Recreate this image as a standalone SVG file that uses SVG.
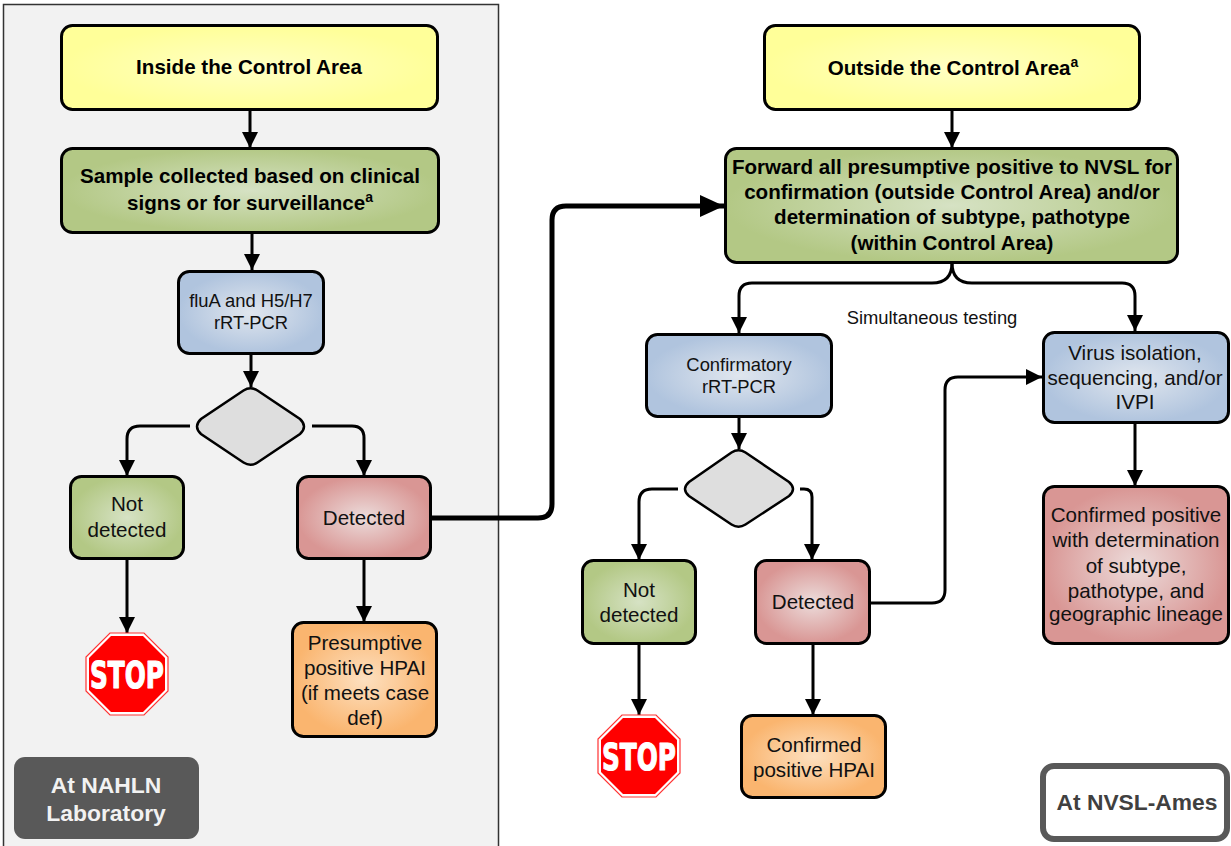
<svg xmlns="http://www.w3.org/2000/svg" width="1231" height="846" viewBox="0 0 1231 846">
<style>
.n{stroke:#000;stroke-width:3}
.t{font-family:"Liberation Sans",Arial,sans-serif;font-size:20.6px;fill:#111;text-anchor:middle}
.b{font-weight:bold;font-size:20.6px;fill:#000}
.s{font-size:18.4px}
.c{fill:none;stroke:#000;stroke-width:3;marker-end:url(#a)}
.stop{font-family:"DejaVu Sans",sans-serif;font-weight:bold;font-size:37px;fill:#fff;stroke:#fff;stroke-width:1.2;stroke-linejoin:round;text-anchor:middle}
</style>
<defs>
<marker id="a" markerUnits="userSpaceOnUse" markerWidth="18" markerHeight="18" refX="16" refY="8" orient="auto"><path d="M0 0L16 8L0 16Z" fill="#000"/></marker>
<marker id="a2" markerUnits="userSpaceOnUse" markerWidth="26" markerHeight="24" refX="24" refY="11" orient="auto"><path d="M0 0L24 11L0 22Z" fill="#000"/></marker>
<radialGradient id="y"><stop offset="0" stop-color="#ffffc4"/><stop offset="1" stop-color="#ffff99"/></radialGradient>
<radialGradient id="g"><stop offset="0" stop-color="#d6e2c4"/><stop offset="1" stop-color="#b3c885"/></radialGradient>
<radialGradient id="l"><stop offset="0" stop-color="#e0e6ee"/><stop offset="1" stop-color="#b0c4de"/></radialGradient>
<radialGradient id="r"><stop offset="0" stop-color="#ecdcdb"/><stop offset="1" stop-color="#d99694"/></radialGradient>
<radialGradient id="o"><stop offset="0" stop-color="#fde0c0"/><stop offset="1" stop-color="#fab56f"/></radialGradient>
<g id="stopsign"><path d="M-17-41H17L41-17V17L17 41H-17L-41 17V-17Z" fill="#fff" stroke="#f33" stroke-width="1.2"/><path d="M-16-38H16L38-16V16L16 38H-16L-38 16V-16Z" fill="#f00"/><text class="stop" y="14" textLength="74" lengthAdjust="spacingAndGlyphs">STOP</text></g>
</defs>
<rect id="panel" x="3.500" y="4.500" width="495" height="850" fill="#f2f2f2" stroke="#333" stroke-width="1.500"/>
<g id="connectors">
<path class="c" d="M250 109V148"/>
<path class="c" d="M252 233V270"/>
<path class="c" d="M251 353V387"/>
<path class="c" d="M190 426H140Q127 426 127 439V476"/>
<path class="c" d="M312 426H352Q364 426 364 438V476"/>
<path class="c" d="M127 559V633"/>
<path class="c" d="M364 559V622"/>
<path d="M430 518H538Q552 518 552 504V220Q552 206 566 206H724" fill="none" stroke="#000" stroke-width="5" marker-end="url(#a2)"/>
<path class="c" d="M952 110V148"/>
<path d="M952 263Q952 283 932 283H752Q739 283 739 296V333" class="c"/>
<path d="M952 263Q952 283 972 283H1122Q1135 283 1135 296V331" class="c"/>
<path class="c" d="M739 417V449"/>
<path class="c" d="M678 489H652Q639 489 639 502V560"/>
<path class="c" d="M800 489H804Q812 489 812 497V560"/>
<path class="c" d="M639 644V715"/>
<path class="c" d="M813 644V715"/>
<path class="c" d="M870 603H932Q945 603 945 590V390Q945 377 958 377H1042"/>
<path class="c" d="M1135 422V486"/>
</g>
<g id="n1"><rect class="n" x="61.500" y="25.500" width="376" height="84" rx="11" fill="url(#y)"/><text class="t b" x="249" y="74">Inside the Control Area</text></g>
<g id="n2"><rect class="n" x="61.500" y="148.500" width="377" height="84" rx="11" fill="url(#g)"/><text class="t b" x="250" y="183">Sample collected based on clinical</text><text class="t b" x="250" y="210">signs or for surveillance<tspan font-size="14" dy="-8">a</tspan></text></g>
<g id="n3"><rect class="n" x="178.500" y="271.500" width="145" height="82" rx="11" fill="url(#l)"/><text class="t s" x="251" y="307">fluA and H5/H7</text><text class="t s" x="251" y="329">rRT-PCR</text></g>
<g id="n4"><path d="M243.500 390.500Q250.500 386 257.500 390.500L300 419Q308 426.500 300 434L257.500 462.500Q250.500 467 243.500 462.500L201 434Q193 426.500 201 419Z" fill="#dedede" stroke="#000" stroke-width="2.500"/></g>
<g id="n5"><rect class="n" x="70.500" y="476.500" width="113" height="82" rx="11" fill="url(#g)"/><text class="t" x="127" y="511">Not</text><text class="t" x="127" y="537">detected</text></g>
<g id="n6"><rect class="n" x="297.500" y="476.500" width="133" height="82" rx="11" fill="url(#r)"/><text class="t" x="364" y="525">Detected</text></g>
<use id="stop1" href="#stopsign" x="127" y="674"/>
<g id="n7"><rect class="n" x="292.500" y="622.500" width="144" height="114" rx="11" fill="url(#o)"/><text class="t" x="365" y="650">Presumptive</text><text class="t" x="365" y="675">positive HPAI</text><text class="t" x="365" y="700">(if meets case</text><text class="t" x="365" y="725">def)</text></g>
<g id="lab1"><rect x="14" y="757" width="185" height="82" rx="11" fill="#595959"/><text class="t b" style="fill:#f2f2f2;font-size:22.9px" x="106" y="793">At NAHLN</text><text class="t b" style="fill:#f2f2f2;font-size:22.9px" x="106" y="821">Laboratory</text></g>
<g id="n8"><rect class="n" x="764.500" y="25.500" width="375" height="84" rx="11" fill="url(#y)"/><text class="t b" x="953" y="75">Outside the Control Area<tspan font-size="14" dy="-8">a</tspan></text></g>
<g id="n9"><rect class="n" x="725.500" y="148.500" width="452" height="114" rx="11" fill="url(#g)"/><text class="t b" x="952" y="174">Forward all presumptive positive to NVSL for</text><text class="t b" x="952" y="199">confirmation (outside Control Area) and/or</text><text class="t b" x="952" y="224">determination of subtype, pathotype</text><text class="t b" x="952" y="250">(within Control Area)</text></g>
<text id="sim" class="t s" x="932" y="324">Simultaneous testing</text>
<g id="n10"><rect class="n" x="646.500" y="334.500" width="185" height="82" rx="11" fill="url(#l)"/><text class="t s" x="739" y="371">Confirmatory</text><text class="t s" x="739" y="393">rRT-PCR</text></g>
<g id="n11"><path d="M731.500 452.500Q738.500 448 745.500 452.500L789 482Q797 489 789 496L745.500 524.500Q738.500 529 731.500 524.500L689 496Q681 489 689 482Z" fill="#dedede" stroke="#000" stroke-width="2.500"/></g>
<g id="n12"><rect class="n" x="1043.500" y="332.500" width="185" height="90" rx="11" fill="url(#l)"/><text class="t" x="1135" y="360">Virus isolation,</text><text class="t" x="1135" y="385">sequencing, and/or</text><text class="t" x="1135" y="409">IVPI</text></g>
<g id="n13"><rect class="n" x="582.500" y="560.500" width="113" height="83" rx="11" fill="url(#g)"/><text class="t" x="639" y="597">Not</text><text class="t" x="639" y="622">detected</text></g>
<g id="n14"><rect class="n" x="755.500" y="560.500" width="114" height="83" rx="11" fill="url(#r)"/><text class="t" x="813" y="609">Detected</text></g>
<use id="stop2" href="#stopsign" x="639" y="756"/>
<g id="n15"><rect class="n" x="741.500" y="715.500" width="144" height="82" rx="11" fill="url(#o)"/><text class="t" x="814" y="752">Confirmed</text><text class="t" x="814" y="777">positive HPAI</text></g>
<g id="n16"><rect class="n" x="1043.500" y="486.500" width="185" height="157" rx="11" fill="url(#r)"/><text class="t" x="1136" y="522">Confirmed positive</text><text class="t" x="1136" y="547">with determination</text><text class="t" x="1136" y="573">of subtype,</text><text class="t" x="1136" y="598">pathotype, and</text><text class="t" x="1136" y="621">geographic lineage</text></g>
<g id="lab2"><rect x="1043" y="766" width="184" height="73" rx="11" fill="#fff" stroke="#595959" stroke-width="6"/><text class="t b" style="font-size:22.8px;fill:#404040" x="1137" y="810">At NVSL-Ames</text></g>
</svg>
